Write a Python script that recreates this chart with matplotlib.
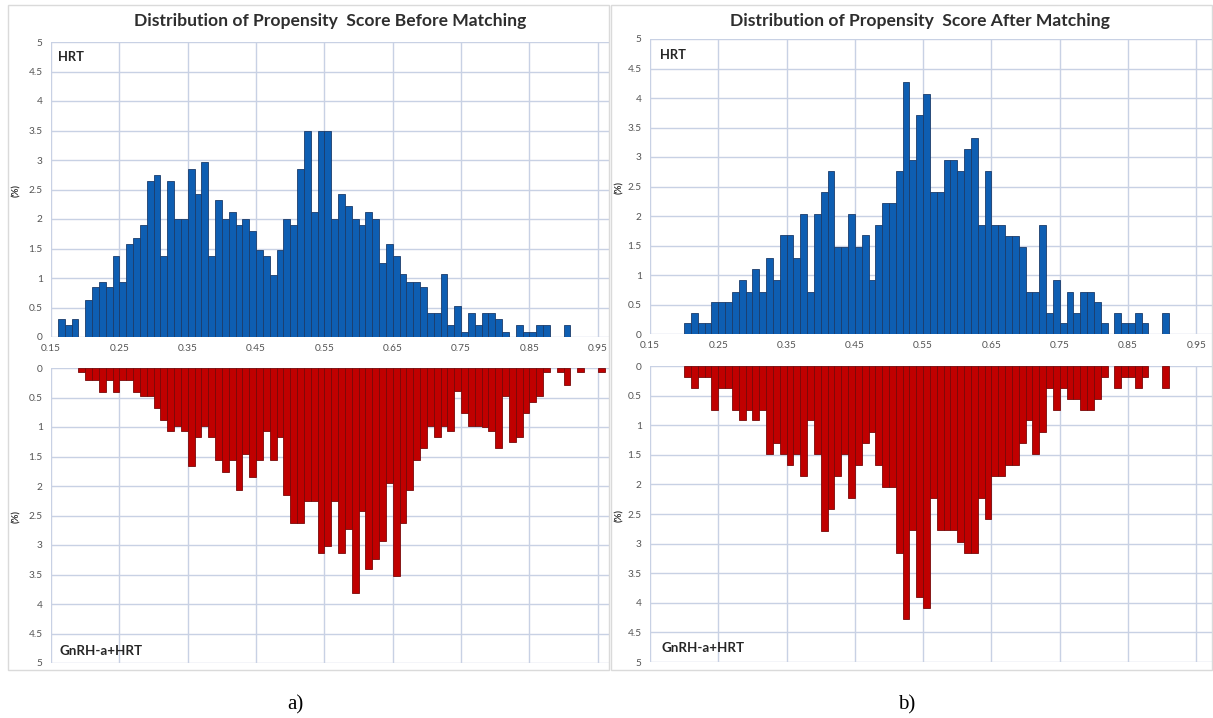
import numpy as np
import matplotlib
matplotlib.use("Agg")
import matplotlib.pyplot as plt
from matplotlib.patches import Rectangle

# ---------------- data (percent per 0.01 bin, bin left edge 0.16 ... 0.95) ----------------
bin_left = np.round(np.arange(16, 96) / 100.0, 2)

before_hrt = [0.3, 0.2, 0.3, 0, 0.62, 0.84, 0.93, 0.84, 1.37, 0.93,
              1.57, 1.68, 1.89, 2.64, 2.75, 1.37, 2.64, 2.0, 2.0, 2.85,
              2.43, 2.97, 1.37, 2.33, 2.0, 2.12, 1.89, 2.0, 1.79, 1.48,
              1.37, 1.05, 1.48, 2.0, 1.89, 2.85, 3.49, 2.12, 3.49, 3.49,
              2.0, 2.43, 2.22, 2.0, 1.89, 2.12, 2.0, 1.26, 1.58, 1.37,
              1.06, 0.94, 0.94, 0.84, 0.41, 0.41, 1.06, 0.2, 0.52, 0.08,
              0.41, 0.2, 0.41, 0.41, 0.31, 0.08, 0, 0.2, 0.08, 0.08,
              0.2, 0.2, 0, 0, 0.2, 0, 0, 0, 0, 0]

before_gnrh = [0, 0, 0, 0.07, 0.2, 0.2, 0.4, 0.2, 0.4, 0.2,
               0.2, 0.4, 0.48, 0.48, 0.68, 0.88, 1.06, 0.98, 1.06, 1.66,
               1.17, 0.98, 1.17, 1.56, 1.76, 1.56, 2.06, 1.46, 1.85, 1.56,
               1.06, 1.56, 1.17, 2.15, 2.63, 2.63, 2.25, 2.25, 3.13, 3.02,
               2.25, 3.13, 2.73, 3.82, 2.43, 3.41, 3.23, 2.93, 1.95, 3.53,
               2.63, 2.06, 1.56, 1.36, 0.99, 1.17, 0.99, 1.06, 0.39, 0.76,
               0.98, 0.98, 1.0, 1.06, 1.36, 0.48, 1.26, 1.17, 0.76, 0.57,
               0.48, 0.07, 0, 0.07, 0.28, 0, 0.07, 0, 0, 0.07]

after_hrt = [0, 0, 0, 0, 0.19, 0.36, 0.19, 0.19, 0.54, 0.54,
             0.54, 0.72, 0.92, 0.72, 1.1, 0.72, 1.29, 0.92, 1.67, 1.67,
             1.29, 2.03, 0.72, 2.03, 2.4, 2.77, 1.47, 1.47, 2.03, 1.47,
             1.67, 0.92, 1.84, 2.22, 2.22, 2.77, 4.27, 2.95, 3.72, 4.07,
             2.4, 2.4, 2.95, 2.95, 2.77, 3.14, 3.33, 1.84, 2.77, 1.84,
             1.84, 1.66, 1.66, 1.47, 0.72, 0.72, 1.84, 0.36, 0.92, 0.19,
             0.72, 0.36, 0.72, 0.72, 0.54, 0.19, 0, 0.36, 0.19, 0.19,
             0.36, 0.19, 0, 0, 0.36, 0, 0, 0, 0, 0]

after_gnrh = [0, 0, 0, 0, 0.19, 0.38, 0.19, 0.19, 0.74, 0.38,
              0.38, 0.74, 0.92, 0.74, 0.92, 0.74, 1.49, 1.3, 1.49, 1.67,
              1.49, 1.85, 0.92, 1.49, 2.79, 2.41, 1.85, 1.49, 2.23, 1.67,
              1.3, 1.11, 1.67, 2.04, 2.04, 3.16, 4.27, 2.77, 3.9, 4.09,
              2.23, 2.77, 2.77, 2.77, 2.97, 3.16, 3.16, 2.23, 2.59, 1.86,
              1.86, 1.67, 1.67, 1.3, 0.92, 1.48, 1.11, 0.38, 0.74, 0.38,
              0.56, 0.56, 0.74, 0.74, 0.56, 0.19, 0, 0.38, 0.19, 0.19,
              0.38, 0.19, 0, 0, 0.38, 0, 0, 0, 0, 0]

x_ticks = [0.15, 0.25, 0.35, 0.45, 0.55, 0.65, 0.75, 0.85, 0.95]
y_ticks = [0, 0.5, 1, 1.5, 2, 2.5, 3, 3.5, 4, 4.5, 5]

titles = ["Distribution of Propensity  Score Before Matching",
          "Distribution of Propensity  Score After Matching"]
group_top = "HRT"
group_bottom = "GnRH-a+HRT"
panel_labels = ["a)", "b)"]

# ---------------- style ----------------
W, H = 1213, 718
BLUE, BLUE_EDGE = "#0E5EB2", "#1B3C6B"
RED, RED_EDGE = "#C00000", "#780808"
GRID = "#C8D1E4"
TICK_C = "#555555"
TITLE_C = "#2E2E2E"
FONT = ["Lato", "DejaVu Sans"]

fig = plt.figure(figsize=(W / 100, H / 100), dpi=100)
fig.patch.set_facecolor("white")


def fx(px):
    return px / W


def fy(py):
    return 1 - py / H


def style_axes(ax, xmax, inverted, show_xlabels):
    ax.set_xlim(0.15, xmax)
    if inverted:
        ax.set_ylim(5, 0)
    else:
        ax.set_ylim(0, 5)
    ax.set_xticks(x_ticks)
    ax.set_yticks(y_ticks)
    ax.set_yticklabels([f"{v:g}" for v in y_ticks])
    if show_xlabels:
        ax.set_xticklabels([f"{v:.2f}" for v in x_ticks])
    else:
        ax.set_xticklabels([])
    ax.tick_params(axis="both", length=0, labelsize=7.3, colors=TICK_C)
    ax.tick_params(axis="y", pad=6)
    ax.tick_params(axis="x", pad=5)
    for lab in ax.get_xticklabels() + ax.get_yticklabels():
        lab.set_family(FONT)
    ax.grid(True, color=GRID, linewidth=1.0)
    ax.set_axisbelow(True)
    for s in ax.spines.values():
        s.set_visible(False)
    ax.set_facecolor("white")


def draw_bars(ax, values, color, edge):
    vals = np.asarray(values, dtype=float)
    keep = vals > 0
    ax.bar(bin_left[keep], vals[keep], width=0.01, align="edge", color=color,
           edgecolor=edge, linewidth=0.6, zorder=3)


panels = [
    dict(top=before_hrt, bottom=before_gnrh, left=51, right=610,
         top_y=(42, 337), bot_y=(368, 663), xmax=0.968,
         title_x=330, frame=(8, 609), label_x=295, pct_x=17,
         hrt_pos=(58, 57), gnrh_pos=(60, 651)),
    dict(top=after_hrt, bottom=after_gnrh, left=650, right=1212,
         top_y=(39, 334), bot_y=(366, 662), xmax=0.973,
         title_x=920, frame=(611, 1212), label_x=907, pct_x=620,
         hrt_pos=(660, 55), gnrh_pos=(662, 648)),
]

for i, p in enumerate(panels):
    # chart frame
    fig.add_artist(Rectangle((fx(p["frame"][0]), fy(670)),
                             fx(p["frame"][1] - p["frame"][0]), (670 - 5) / H,
                             transform=fig.transFigure, fill=False,
                             edgecolor="#DADADA", linewidth=1.0))

    l, w = fx(p["left"]), fx(p["right"] - p["left"])
    t0, t1 = p["top_y"]
    b0, b1 = p["bot_y"]
    ax_t = fig.add_axes([l, fy(t1), w, (t1 - t0) / H])
    ax_b = fig.add_axes([l, fy(b1), w, (b1 - b0) / H])

    style_axes(ax_t, p["xmax"], False, True)
    style_axes(ax_b, p["xmax"], True, False)

    draw_bars(ax_t, p["top"], BLUE, BLUE_EDGE)
    draw_bars(ax_b, p["bottom"], RED, RED_EDGE)

    hx, hy = p["hrt_pos"]
    fig.text(fx(hx), fy(hy), group_top, fontsize=9.3, fontweight="bold",
             color="#262626", ha="left", va="center", family=FONT)
    gx, gy = p["gnrh_pos"]
    fig.text(fx(gx), fy(gy), group_bottom, fontsize=9.6, fontweight="bold",
             color="#262626", ha="left", va="center", family=FONT)

    fig.text(fx(p["pct_x"]), fy((t0 + t1) / 2 + 1), "(%)", fontsize=6.8,
             fontweight="bold", rotation=90, color="#333333",
             ha="center", va="center", family=FONT)
    fig.text(fx(p["pct_x"]), fy((b0 + b1) / 2 + 1), "(%)", fontsize=6.8,
             fontweight="bold", rotation=90, color="#333333",
             ha="center", va="center", family=FONT)

    fig.text(fx(p["title_x"]), fy(21), titles[i], fontsize=12.6,
             fontweight="bold", color=TITLE_C, ha="center", va="center",
             family=FONT)

    fig.text(fx(p["label_x"]), fy(705), panel_labels[i], fontsize=15,
             color="black", ha="center", va="center",
             family=["Liberation Serif", "DejaVu Serif"])

fig.savefig("out.png", dpi=100, facecolor="white")
